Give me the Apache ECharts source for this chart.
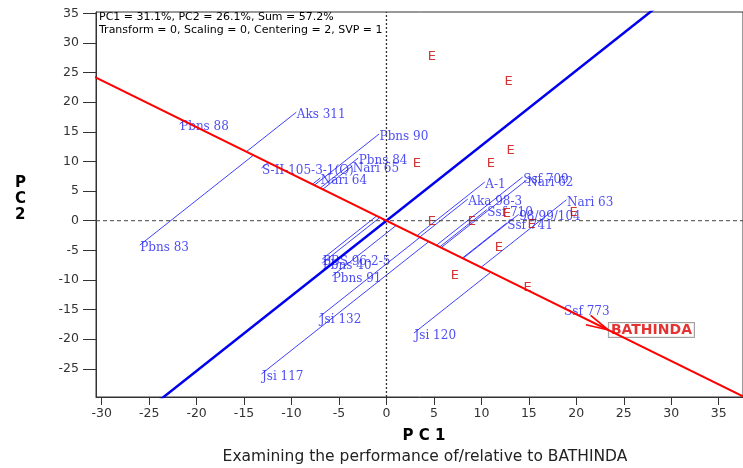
<!DOCTYPE html>
<html><head><meta charset="utf-8">
<script src="https://cdn.jsdelivr.net/npm/echarts@6/dist/echarts.min.js"></script>
<style>html,body{margin:0;padding:0;background:#fff}#c{width:743px;height:468px}</style>
</head><body><div id="c"></div>
<script>
// ---- data ----
const genotypes = ['Aks 311','Pbns 88','Pbns 90','Pbns 84','S-II-105-3-1(O)','Nari 65','Nari 64','A-1','Ssf 709','Nari 62','Aka 98-3','Ssf 710','98/99/104','Ssf 741','Nari 63','PBS 96-2-5','Pbns 40','Pbns 91','Jsi 132','Jsi 120','Jsi 117','Pbns 83','Ssf 773'];
const genoPC1 = [-9.50,-21.79,-0.78,-2.98,-13.17,-3.61,-6.97,10.36,14.35,14.77,8.57,10.57,13.93,12.67,18.97,-6.76,-6.76,-5.71,-7.08,2.90,-13.17,-25.99,18.66];
const genoPC2 = [18.31,16.32,14.63,10.58,8.89,9.23,7.21,6.53,7.37,6.87,3.66,1.86,1.08,-0.39,3.54,-6.46,-7.14,-9.33,-16.25,-18.95,-25.87,-4.12,-14.85];
const envPC1 = [4.79,12.88,13.09,3.21,10.99,4.79,8.99,12.67,19.71,15.29,11.83,7.21,14.87];
const envPC2 = [27.63,23.41,11.76,9.57,9.57,-0.22,-0.22,1.13,1.30,-0.73,-4.61,-9.33,-11.36];
const focusEnv = 'BATHINDA';
const focusPC1 = 23.38;
const focusPC2 = -18.45;
const xTicks = [-30,-25,-20,-15,-10,-5,0,5,10,15,20,25,30,35];
const yTicks = [-25,-20,-15,-10,-5,0,5,10,15,20,25,30,35];
const infoLines = ['PC1 = 31.1%, PC2 = 26.1%, Sum = 57.2%','Transform = 0, Scaling = 0, Centering = 2, SVP = 1'];
const xName = 'P C 1';
const yName = 'P\nC\n2';
const subTitle = 'Examining the performance of/relative to BATHINDA';

// ---- derived ----
const XMIN = -30.6, XMAX = 37.56, YMIN = -29.75, YMAX = 35.22;
const vv = focusPC1*focusPC1 + focusPC2*focusPC2;
const projLines = genotypes.map((g,i)=>{
  const t = (genoPC1[i]*focusPC1 + genoPC2[i]*focusPC2)/vv;
  return {coords:[[genoPC1[i],genoPC2[i]],[t*focusPC1,t*focusPC2]]};
});
const k = 6;
const redLine = [[-k*focusPC1,-k*focusPC2],[k*focusPC1,k*focusPC2]];
const blueLine = [[k*focusPC2,-k*focusPC1],[-k*focusPC2,k*focusPC1]];

const chart = echarts.init(document.getElementById('c'));
const sans = 'DejaVu Sans';
chart.setOption({
  animation:false,
  backgroundColor:'#fff',
  grid:{left:96,right:-3,top:12,bottom:71,show:true,borderColor:'#333',borderWidth:1},
  xAxis:{type:'value',min:XMIN,max:XMAX,
    axisLine:{show:true,onZero:false,lineStyle:{color:'#333'}},
    axisTick:{show:true,length:8,customValues:xTicks,lineStyle:{color:'#333'}},
    axisLabel:{customValues:xTicks,color:'#333',fontSize:12.5,fontFamily:sans,margin:10},
    splitLine:{show:false}},
  yAxis:{type:'value',min:YMIN,max:YMAX,
    axisLine:{show:true,onZero:false,lineStyle:{color:'#333'}},
    axisTick:{show:true,length:13,customValues:yTicks,lineStyle:{color:'#333'}},
    axisLabel:{customValues:yTicks,color:'#333',fontSize:12.5,fontFamily:sans,margin:17},
    splitLine:{show:false}},
  graphic:[
    {type:'text',left:99,top:11,style:{text:infoLines.join('\n'),font:'11px "DejaVu Sans"',fill:'#000',lineHeight:12.5}},
    {type:'text',left:15,top:175,style:{text:yName,font:'bold 15px "DejaVu Sans"',fill:'#000',lineHeight:16,align:'center'}},
    {type:'text',x:424,y:436,style:{text:xName,font:'bold 15px "DejaVu Sans"',fill:'#000',align:'center',verticalAlign:'middle'}},
    {type:'text',x:425,y:457,style:{text:subTitle,font:'15.5px "DejaVu Sans"',fill:'#222',align:'center',verticalAlign:'middle'}}
  ],
  series:[
    {type:'line',data:[[0,YMIN],[0,YMAX]],showSymbol:false,silent:true,lineStyle:{color:'#333',width:1.3,type:[2,2]}},
    {type:'line',data:[[XMIN,0],[XMAX,0]],showSymbol:false,silent:true,lineStyle:{color:'#444',width:1,type:[4,3]}},
    {type:'lines',coordinateSystem:'cartesian2d',data:projLines,silent:true,lineStyle:{color:'#2a2aff',width:0.9,opacity:1}},
    {type:'line',data:blueLine,showSymbol:false,clip:true,silent:true,lineStyle:{color:'#0000ee',width:2.5}},
    {type:'line',data:redLine,showSymbol:false,clip:true,silent:true,lineStyle:{color:'#ff0000',width:2}},
    {type:'custom',data:[[focusPC1,focusPC2]],silent:true,
      renderItem:function(params,api){
        const tip = api.coord([api.value(0),api.value(1)]);
        const o = api.coord([0,0]);
        const ang = Math.atan2(tip[1]-o[1],tip[0]-o[0]);
        const L=23,a=0.23;
        return {type:'polyline',shape:{points:[[tip[0]-L*Math.cos(ang-a),tip[1]-L*Math.sin(ang-a)],tip,[tip[0]-L*Math.cos(ang+a),tip[1]-L*Math.sin(ang+a)]]},
          style:{stroke:'#ff0000',lineWidth:1.6,fill:null}};
      }},
    {type:'scatter',data:genotypes.map((g,i)=>({name:g,value:[genoPC1[i],genoPC2[i]]})),symbolSize:1,
      itemStyle:{color:'rgba(0,0,0,0)'},silent:true,
      label:{show:true,position:'right',distance:0,offset:[0,3],formatter:p=>p.name,color:'#2222f0',fontSize:12,fontFamily:'DejaVu Serif'}},
    {type:'scatter',data:envPC1.map((x,i)=>[x,envPC2[i]]),symbolSize:1,itemStyle:{color:'rgba(0,0,0,0)'},silent:true,
      label:{show:true,position:'inside',formatter:'E',color:'#cc0000',fontSize:13,fontFamily:sans}},
    {type:'scatter',data:[{name:focusEnv,value:[focusPC1,focusPC2]}],symbolSize:1,itemStyle:{color:'rgba(0,0,0,0)'},silent:true,
      label:{show:true,position:'right',distance:0,formatter:p=>p.name,color:'#dd0000',fontSize:14,fontWeight:'bold',fontFamily:sans,
        borderColor:'#888',borderWidth:1,padding:[0,2,0,2],backgroundColor:'#fff'}}
  ]
});
</script></body></html>
